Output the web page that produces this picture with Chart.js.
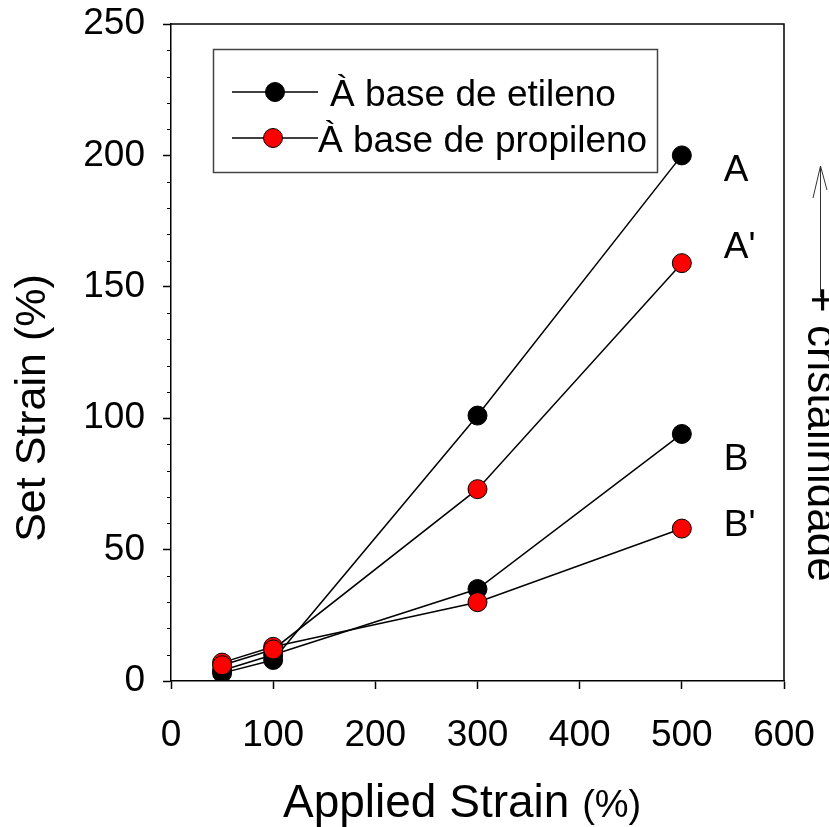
<!DOCTYPE html>
<html>
<head>
<meta charset="utf-8">
<script src="https://cdn.jsdelivr.net/npm/chart.js@4.4.1/dist/chart.umd.min.js"></script>
<style>
    html, body { margin: 0; padding: 0; background: #fff; }
    canvas { display: block; }
</style>
</head>
<body>
<canvas id="setStrainChart" width="829" height="827"></canvas>
<script>
// deformação aplicada (%)
const appliedStrain = [50, 100, 300, 500];

// set strain (%) de cada curva
const setA = [3, 8, 101, 200];      // etileno
const setA2 = [6, 12, 73, 159];     // propileno
const setB = [4, 10, 35, 94];       // etileno
const setB2 = [7, 13, 30, 58];      // propileno

const curveNames = ['A', "A'", 'B', "B'"];
// posição dos nomes das curvas (unidades dos eixos)
const curveNameX = [541, 541, 541, 541];
const curveNameY = [194, 165, 84, 59];

const legendLabels = ['À base de etileno', 'À base de propileno'];
const xTitle = 'Applied Strain';
const xTitleUnit = '(%)';
const yTitle = 'Set Strain (%)';
const sideNote = '+ cristalinidade';

const xMax = 600, xStep = 100;
const yMax = 250, yStep = 50, yMinorStep = 10;

const FONT = '"Liberation Sans", Arial, sans-serif';

function makeSeries(values, fill) {
    return {
        data: appliedStrain.map((x, i) => ({ x: x, y: values[i] })),
        borderColor: '#000',
        borderWidth: 1.5,
        pointBackgroundColor: fill,
        pointBorderColor: '#000',
        pointBorderWidth: 1,
        pointRadius: 9.5,
        showLine: true,
        order: fill === '#000' ? 1 : 0
    };
}

// moldura, ticks menores, títulos, legenda e anotações
const extras = {
    id: 'extras',
    afterDraw(chart) {
        const ctx = chart.ctx;
        const a = chart.chartArea;
        const x = chart.scales.x, y = chart.scales.y;
        ctx.save();

        ctx.strokeStyle = '#000';
        ctx.lineWidth = 1.5;
        ctx.beginPath();
        ctx.moveTo(a.left, a.top);
        ctx.lineTo(a.right, a.top);
        ctx.lineTo(a.right, a.bottom);
        ctx.stroke();

        ctx.lineWidth = 1;
        ctx.beginPath();
        for (let v = 0; v <= yMax; v += yMinorStep) {
            if (v % yStep === 0) continue;
            const py = Math.round(y.getPixelForValue(v)) + 0.5;
            ctx.moveTo(a.left - 4, py);
            ctx.lineTo(a.left, py);
        }
        ctx.stroke();

        // títulos dos eixos
        ctx.fillStyle = '#000';
        ctx.textBaseline = 'alphabetic';
        ctx.textAlign = 'left';
        ctx.font = '46px ' + FONT;
        ctx.fillText(xTitle, 283, 817);
        const w = ctx.measureText(xTitle + ' ').width;
        ctx.font = '38px ' + FONT;
        ctx.fillText(xTitleUnit, 283 + w, 817);

        ctx.save();
        ctx.translate(45, 408);
        ctx.rotate(-Math.PI / 2);
        ctx.textAlign = 'center';
        ctx.font = '43px ' + FONT;
        ctx.fillText(yTitle, 0, 0);
        ctx.restore();

        // legenda
        ctx.lineWidth = 1.5;
        ctx.strokeStyle = '#444';
        ctx.strokeRect(213.5, 49.5, 444, 123);
        const ds = chart.data.datasets;
        const rows = [
            { ly: 92, ty: 106, tx: 330, mx: 275, fill: ds[0].pointBackgroundColor },
            { ly: 138, ty: 152, tx: 318, mx: 273, fill: ds[1].pointBackgroundColor }
        ];
        ctx.font = '37px ' + FONT;
        rows.forEach((r, i) => {
            ctx.strokeStyle = '#000';
            ctx.lineWidth = 1.5;
            ctx.beginPath();
            ctx.moveTo(232, r.ly);
            ctx.lineTo(318, r.ly);
            ctx.stroke();
            ctx.beginPath();
            ctx.arc(r.mx, r.ly, 9.5, 0, Math.PI * 2);
            ctx.fillStyle = r.fill;
            ctx.fill();
            ctx.lineWidth = 1;
            ctx.stroke();
            ctx.fillStyle = '#000';
            ctx.fillText(legendLabels[i], r.tx, r.ty);
        });

        // nomes das curvas
        ctx.textBaseline = 'middle';
        ctx.font = '37px ' + FONT;
        curveNames.forEach((name, i) => {
            ctx.fillText(name, x.getPixelForValue(curveNameX[i]), y.getPixelForValue(curveNameY[i]));
        });

        // seta e texto lateral
        ctx.strokeStyle = '#333';
        ctx.lineWidth = 1;
        ctx.beginPath();
        ctx.moveTo(820.5, 297);
        ctx.lineTo(820.5, 166);
        ctx.moveTo(813, 198);
        ctx.lineTo(820.5, 166);
        ctx.lineTo(827, 190);
        ctx.stroke();

        ctx.save();
        ctx.translate(808, 287);
        ctx.rotate(Math.PI / 2);
        ctx.textAlign = 'left';
        ctx.textBaseline = 'alphabetic';
        ctx.font = '44px ' + FONT;
        ctx.fillStyle = '#000';
        ctx.fillText(sideNote, 0, 0);
        ctx.restore();

        ctx.restore();
    }
};

new Chart(document.getElementById('setStrainChart'), {
    type: 'scatter',
    data: {
        datasets: [
            makeSeries(setA, '#000'),
            makeSeries(setA2, '#ff0000'),
            makeSeries(setB, '#000'),
            makeSeries(setB2, '#ff0000')
        ]
    },
    options: {
        responsive: false,
        animation: false,
        layout: { padding: { top: 24, right: 45, left: 0, bottom: 0 } },
        plugins: {
            legend: { display: false },
            tooltip: { enabled: false }
        },
        scales: {
            x: {
                type: 'linear',
                min: 0,
                max: xMax,
                ticks: { stepSize: xStep, color: '#000', padding: 25, font: { family: FONT, size: 37 } },
                grid: { drawOnChartArea: false, tickLength: 8, tickColor: '#000', tickWidth: 1.5 },
                border: { color: '#000', width: 1.5 },
                afterFit(s) { s.height = 146; s.paddingLeft = 0; s.paddingRight = 0; }
            },
            y: {
                type: 'linear',
                min: 0,
                max: yMax,
                ticks: { stepSize: yStep, color: '#000', padding: 18, font: { family: FONT, size: 37 } },
                grid: { drawOnChartArea: false, tickLength: 8, tickColor: '#000', tickWidth: 1.5 },
                border: { color: '#000', width: 1.5 },
                afterFit(s) { s.width = 171; s.paddingTop = 0; s.paddingBottom = 0; }
            }
        }
    },
    plugins: [extras]
});
</script>
</body>
</html>
